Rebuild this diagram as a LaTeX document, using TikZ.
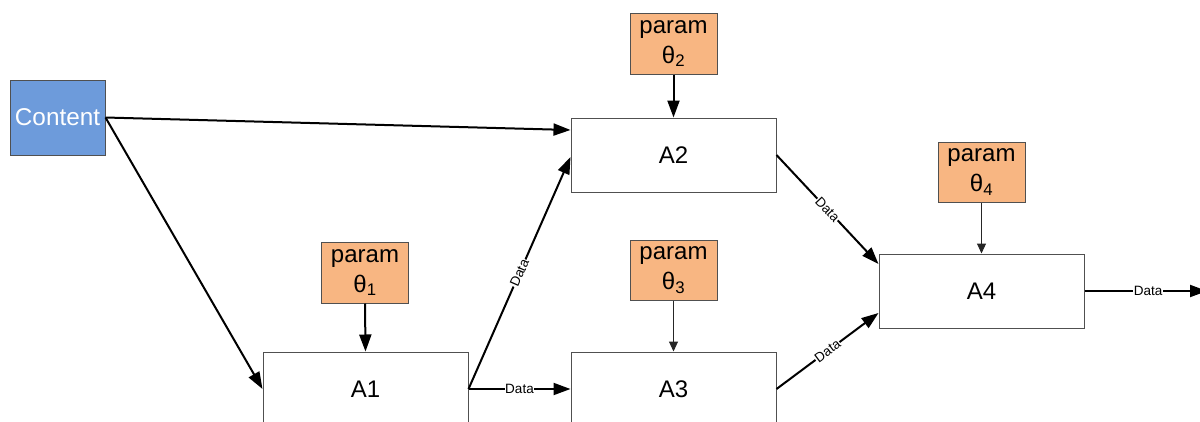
\documentclass[tikz,border=0pt]{standalone}
\usepackage{fontspec}
\setmainfont{Liberation Sans}
\usetikzlibrary{arrows.meta,calc}
\definecolor{contentc}{HTML}{6D9BDB}
\definecolor{paramc}{HTML}{F8B682}
\definecolor{edgec}{HTML}{505050}
\begin{document}
\begin{tikzpicture}[x=1pt,y=-1pt,
  proc/.style={draw=edgec, line width=1pt, fill=white, minimum width=205pt, minimum height=74pt, inner sep=0pt, font=\fontsize{24}{28}\selectfont},
  parbox/.style={draw=edgec, line width=1pt, fill=paramc, minimum width=87pt, minimum height=61pt, inner sep=0pt, align=center, font=\fontsize{24}{30}\selectfont},
  srcbox/.style={draw=edgec, line width=1pt, fill=contentc, text=white, minimum width=95pt, minimum height=75pt, inner sep=0pt, font=\fontsize{24.3}{28}\selectfont},
  flow/.style={line width=2pt, -{Triangle[length=17pt,width=12pt]}},
  thinflow/.style={line width=1pt, draw=black!85, -{Triangle[length=10pt,width=9pt]}},
  lbl/.style={fill=white, inner sep=0.5pt, font=\fontsize{13.5}{15}\selectfont, sloped}
]
\useasboundingbox (0,0) rectangle (1200,421);

\node[srcbox] (content) at (57.5,117.5) {Content};

\node[proc] (A1) at (365.5,389) {A1};
\node[proc] (A2) at (673.5,155) {A2};
\node[proc] (A3) at (673.5,389) {A3};
\node[proc] (A4) at (981.5,291) {A4};

\node[parbox] (p1) at (365,272.5) {param\\θ\textsubscript{1}};
\node[parbox] (p2) at (673.5,43.5) {param\\θ\textsubscript{2}};
\node[parbox, minimum height=60pt] (p3) at (673.5,270) {param\\θ\textsubscript{3}};
\node[parbox, minimum height=60pt] (p4) at (981.5,172) {param\\θ\textsubscript{4}};

\coordinate (out) at (1207,291);

\draw[flow] (content.east) -- ($(A2.west)+(0,-25)$);
\draw[flow] (content.east) -- (A1.west);
\draw[flow] (p1.south) -- (A1.north);
\draw[flow] (p2.south) -- (A2.north);
\draw[thinflow] (p3.south) -- (A3.north);
\draw[thinflow] (p4.south) -- (A4.north);

\draw[flow] (A1.east) -- node[lbl] {Data} ($(A2.west)+(0,2)$);
\draw[flow] (A1.east) -- node[lbl] {Data} (A3.west);
\draw[flow] (A2.east) -- node[lbl] {Data} ($(A4.west)+(0,-27)$);
\draw[flow] (A3.east) -- node[lbl] {Data} ($(A4.west)+(0,22)$);
\draw[flow] (A4.east) -- node[lbl, pos=0.52] {Data} (out);
\end{tikzpicture}
\end{document}
